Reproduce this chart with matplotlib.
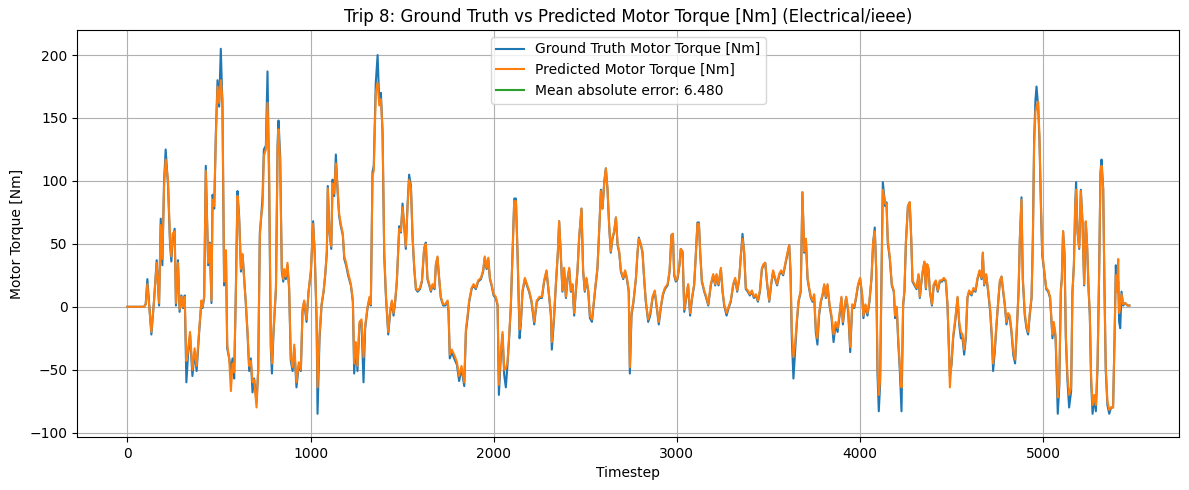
import numpy as np
import matplotlib
matplotlib.use("Agg")
import matplotlib.pyplot as plt

# Values (timestep, ground truth, predicted)
timestep = [
    0, 50, 90, 100, 109, 131, 145, 160, 173, 182,
    191, 200, 209, 222, 233, 240, 247, 258, 265, 276,
    285, 295, 304, 313, 322, 331, 342, 355, 367, 378,
    391, 404, 410, 419, 428, 441, 450, 459, 465, 474,
    483, 492, 501, 510, 519, 528, 538, 545, 556, 565,
    574, 583, 592, 601, 610, 620, 629, 638, 647, 656,
    665, 674, 683, 692, 705, 714, 723, 730, 738, 745,
    756, 765, 774, 783, 789, 798, 811, 820, 825, 834,
    843, 851, 856, 865, 874, 883, 892, 902, 911, 923,
    936, 947, 956, 965, 978, 989, 1002, 1014, 1023, 1033,
    1038, 1049, 1060, 1071, 1080, 1089, 1094, 1103, 1113, 1120,
    1129, 1138, 1147, 1156, 1165, 1176, 1184, 1194, 1205, 1220,
    1231, 1238, 1247, 1256, 1267, 1278, 1289, 1298, 1311, 1322,
    1329, 1338, 1345, 1356, 1366, 1375, 1384, 1393, 1402, 1411,
    1424, 1435, 1444, 1453, 1462, 1471, 1484, 1493, 1502, 1511,
    1520, 1529, 1538, 1548, 1557, 1566, 1575, 1584, 1597, 1608,
    1620, 1629, 1638, 1648, 1657, 1666, 1677, 1684, 1693, 1702,
    1711, 1724, 1735, 1748, 1753, 1760, 1771, 1784, 1799, 1811,
    1824, 1839, 1848, 1857, 1866, 1879, 1890, 1902, 1915, 1930,
    1942, 1951, 1961, 1970, 1979, 1988, 1999, 2011, 2021, 2028,
    2039, 2048, 2057, 2066, 2075, 2084, 2093, 2104, 2112, 2121,
    2130, 2141, 2148, 2157, 2170, 2181, 2193, 2206, 2221, 2235,
    2250, 2263, 2275, 2288, 2303, 2312, 2317, 2328, 2339, 2350,
    2357, 2366, 2375, 2384, 2394, 2403, 2412, 2421, 2430, 2439,
    2448, 2457, 2466, 2479, 2488, 2497, 2506, 2516, 2525, 2536,
    2545, 2554, 2566, 2576, 2585, 2594, 2603, 2612, 2621, 2630,
    2639, 2648, 2657, 2667, 2676, 2685, 2694, 2707, 2717, 2727,
    2737, 2743, 2752, 2763, 2776, 2785, 2792, 2803, 2812, 2821,
    2830, 2843, 2854, 2867, 2879, 2890, 2901, 2912, 2923, 2934,
    2949, 2960, 2970, 2978, 2985, 2994, 3003, 3014, 3021, 3031,
    3040, 3051, 3061, 3072, 3083, 3094, 3103, 3112, 3120, 3127,
    3136, 3149, 3160, 3171, 3185, 3198, 3209, 3216, 3227, 3240,
    3249, 3258, 3271, 3282, 3294, 3307, 3318, 3329, 3340, 3349,
    3358, 3367, 3376, 3387, 3398, 3409, 3420, 3431, 3442, 3453,
    3464, 3473, 3482, 3493, 3504, 3514, 3525, 3536, 3547, 3558,
    3569, 3580, 3591, 3602, 3613, 3620, 3627, 3636, 3645, 3655,
    3664, 3676, 3685, 3695, 3704, 3713, 3722, 3731, 3740, 3749,
    3758, 3767, 3776, 3786, 3795, 3804, 3813, 3822, 3833, 3844,
    3855, 3866, 3877, 3888, 3898, 3906, 3917, 3924, 3935, 3946,
    3957, 3968, 3978, 3989, 4000, 4011, 4018, 4029, 4040, 4051,
    4062, 4071, 4080, 4088, 4095, 4102, 4109, 4117, 4124, 4137,
    4144, 4151, 4162, 4173, 4184, 4191, 4200, 4208, 4217, 4226,
    4235, 4242, 4250, 4261, 4271, 4279, 4286, 4297, 4308, 4319,
    4326, 4335, 4344, 4351, 4359, 4366, 4373, 4381, 4392, 4402,
    4413, 4424, 4435, 4446, 4457, 4468, 4477, 4483, 4490, 4499,
    4508, 4519, 4532, 4541, 4550, 4559, 4568, 4577, 4586, 4595,
    4608, 4619, 4630, 4641, 4652, 4663, 4670, 4677, 4688, 4699,
    4710, 4719, 4726, 4735, 4745, 4754, 4763, 4772, 4781, 4790,
    4799, 4808, 4817, 4826, 4836, 4846, 4856, 4865, 4872, 4881,
    4888, 4899, 4908, 4917, 4926, 4936, 4943, 4950, 4957, 4963,
    4972, 4979, 4987, 4994, 5005, 5016, 5027, 5037, 5045, 5050,
    5057, 5067, 5072, 5079, 5087, 5096, 5101, 5108, 5116, 5123,
    5132, 5141, 5152, 5159, 5167, 5174, 5179, 5187, 5196, 5205,
    5214, 5223, 5232, 5239, 5247, 5254, 5261, 5269, 5278, 5287,
    5296, 5305, 5312, 5318, 5327, 5334, 5341, 5350, 5360, 5370,
    5381, 5389, 5396, 5403, 5409, 5414, 5420, 5427, 5436, 5447,
    5460, 5470,
]

ground_truth = [
    0, 0, 0, 2, 22, -22, 4, 37, 1, 70,
    33, 99, 125, 96, 49, 36, 54, 62, 1, 37,
    -4, 9, -1, 9, -60, -38, -22, -55, -36, -51,
    -22, 4, -1, 7, 112, 33, 51, 3, 89, 78,
    138, 180, 159, 205, 159, 17, 43, -33, -41, -51,
    -41, -57, 12, 92, 72, 28, 41, 22, 1, -22,
    -51, -41, -68, -57, -76, -51, 59, 70, 88, 125,
    128, 187, 93, -33, -53, -20, 14, 130, 148, 120,
    28, 20, 28, 22, 33, 14, -43, -51, -33, -64,
    -46, -51, -4, 4, -12, 12, 28, 68, 41, -12,
    -85, -25, 1, 12, 25, 43, 96, 59, 46, 101,
    88, 121, 93, 72, 64, 57, 38, 33, 25, 17,
    4, -53, -30, -51, -14, -12, -60, -17, -1, 7,
    1, 107, 112, 178, 200, 162, 170, 138, 41, 9,
    -22, -4, 4, -7, 4, 20, 64, 59, 82, 64,
    46, 80, 105, 96, 54, 30, 14, 12, 14, 20,
    46, 51, 22, 17, 12, 17, 14, 33, 39, 22,
    7, 1, 1, 4, -4, -41, -36, -41, -46, -59,
    -49, -63, -20, -9, 4, 14, 17, 14, 20, 22,
    28, 39, 30, 38, 22, 17, 9, 7, 1, -70,
    -38, -22, -54, -64, -46, -25, -1, 49, 86, 86,
    41, -25, -14, 12, 22, 17, 12, 4, -14, 4,
    7, 7, 20, 28, 7, -7, -34, -12, 17, 43,
    68, 41, 12, 30, 7, 22, 30, 12, 17, -7,
    12, 28, 54, 78, 28, 12, 22, 12, -9, -12,
    1, 14, 30, 62, 93, 78, 99, 110, 93, 64,
    43, 54, 59, 71, 49, 43, 28, 22, 28, 22,
    12, -53, -7, 4, 22, 43, 55, 49, 43, 22,
    4, -12, -7, 7, 12, -1, -14, -1, 9, 14,
    17, 28, 57, 58, 25, 20, 22, 33, 46, 43,
    -4, 7, 17, -7, 7, 17, 41, 67, 67, 43,
    20, 12, 7, 1, 17, 25, 17, 25, 17, 30,
    12, 1, -7, -1, 4, 17, 22, 12, 22, 41,
    58, 43, 14, 12, 9, 12, 7, 9, 4, 12,
    30, 33, 35, 17, 4, 17, 28, 22, 17, 25,
    28, 25, 33, 41, 49, 28, -25, -57, -36, -12,
    4, 12, 91, 43, 54, 22, 14, 7, 4, 9,
    -20, -30, -7, 4, 9, 17, 7, 17, 1, -9,
    -28, -14, -20, -7, 7, -14, 1, 7, -4, -36,
    1, -1, 7, 17, 22, 9, -9, 1, -7, 4,
    22, 51, 63, 28, -54, -83, -62, 28, 99, 80,
    83, 51, 38, 17, 12, -9, -1, -28, -51, -83,
    1, 12, 51, 80, 83, 54, 20, 17, 14, 25,
    7, 20, 30, 35, 14, 33, 30, 12, 1, 17,
    20, 12, 20, 20, 22, 20, 1, -25, -55, -46,
    -25, -12, 7, -14, -25, -25, -38, -25, 7, 12,
    9, 14, 12, 22, 28, 22, 43, 17, 25, 12,
    -4, -25, -51, -36, -14, 4, 20, 24, 12, 1,
    -14, -7, -9, -20, -38, -45, -17, 12, 54, 87,
    22, -7, -17, -22, -7, 7, 54, 133, 164, 175,
    159, 133, 80, 41, 28, 14, 12, 7, -12, -25,
    -14, -25, -49, -85, -64, 14, 22, 60, 41, -25,
    -59, -80, -67, 12, 33, 80, 99, 59, 46, 93,
    67, 17, 67, 49, 14, -7, -59, -85, -72, -83,
    -49, 28, 107, 117, 93, 14, -51, -78, -85, -80,
    -80, -25, 33, 12, 20, -12, -17, 12, 1, 3,
    1, 1,
]

predicted = [
    0, 0, 0, 2, 18, -20, 4, 35, 3, 65,
    38, 95, 117, 100, 52, 40, 58, 60, 3, 35,
    -2, 8, 0, 8, -43, -35, -20, -50, -33, -47,
    -20, 5, 0, 8, 108, 35, 50, 5, 85, 80,
    135, 175, 162, 180, 165, 20, 45, -30, -42, -67,
    -45, -52, 10, 88, 70, 30, 42, 20, 3, -20,
    -47, -43, -60, -58, -80, -50, 55, 72, 80, 120,
    125, 162, 110, -30, -45, -18, 15, 125, 141, 115,
    30, 22, 30, 24, 35, 16, -40, -48, -30, -60,
    -44, -50, -2, 5, -10, 12, 30, 66, 42, -10,
    -64, -22, 2, 12, 26, 45, 94, 60, 48, 98,
    90, 114, 96, 74, 66, 58, 40, 35, 27, 18,
    5, -45, -28, -47, -12, -10, -40, -15, 0, 8,
    2, 104, 108, 170, 178, 160, 165, 140, 45, 11,
    -20, -2, 5, -5, 5, 21, 62, 60, 79, 65,
    48, 78, 101, 94, 56, 32, 15, 13, 15, 21,
    47, 50, 23, 18, 13, 18, 15, 34, 40, 23,
    8, 2, 2, 5, -2, -38, -34, -38, -44, -55,
    -47, -60, -18, -7, 5, 15, 18, 15, 21, 23,
    29, 40, 31, 39, 23, 18, 10, 8, 2, -62,
    -35, -20, -50, -49, -44, -23, 0, 48, 84, 84,
    43, -18, -12, 13, 23, 18, 13, 5, -12, 5,
    8, 8, 21, 29, 8, -5, -28, -10, 18, 44,
    68, 42, 13, 31, 8, 23, 31, 13, 18, -5,
    13, 29, 55, 78, 29, 13, 23, 13, -7, -10,
    2, 15, 31, 62, 92, 78, 98, 110, 94, 65,
    44, 55, 60, 71, 50, 44, 29, 23, 29, 23,
    13, -48, -5, 5, 23, 44, 54, 50, 44, 23,
    5, -10, -5, 8, 13, 0, -12, 0, 10, 15,
    18, 29, 57, 58, 26, 21, 23, 34, 46, 44,
    -2, 8, 18, -5, 8, 18, 41, 66, 66, 44,
    21, 13, 8, 2, 18, 26, 18, 26, 18, 31,
    13, 2, -5, 0, 5, 18, 23, 13, 23, 41,
    54, 44, 15, 13, 10, 13, 8, 10, 5, 13,
    31, 34, 35, 18, 5, 18, 29, 23, 18, 26,
    29, 26, 34, 42, 49, 29, -18, -40, -30, -10,
    5, 13, 91, 44, 54, 23, 15, 8, 5, 10,
    -17, -25, -5, 5, 10, 18, 8, 18, 2, -7,
    -22, -12, -17, -5, 8, -12, 2, 8, -2, -32,
    2, 0, 8, 18, 23, 10, -7, 2, -5, 5,
    23, 51, 60, 29, -48, -70, -58, 25, 93, 82,
    82, 53, 40, 18, 13, -7, 0, -25, -47, -64,
    3, 13, 52, 80, 83, 55, 21, 18, 15, 26,
    8, 21, 31, 36, 15, 34, 31, 13, 2, 18,
    21, 13, 21, 21, 23, 21, 2, -25, -64, -44,
    -23, -10, 8, -12, -20, -22, -34, -23, 8, 13,
    10, 15, 13, 23, 29, 23, 43, 18, 26, 13,
    -2, -22, -45, -33, -12, 5, 21, 24, 13, 2,
    -12, -5, -7, -18, -35, -42, -15, 13, 54, 85,
    24, -5, -15, -20, -5, 8, 52, 128, 155, 159,
    163, 136, 84, 44, 29, 15, 13, 8, -10, -22,
    -12, -22, -45, -72, -62, 12, 22, 60, 42, -22,
    -55, -70, -64, 10, 33, 78, 93, 60, 47, 92,
    68, 18, 68, 50, 15, -5, -55, -78, -70, -78,
    -45, 28, 103, 112, 94, 16, -48, -75, -82, -80,
    -80, -22, 25, 12, 38, -5, 0, 10, 2, 3,
    1, 1,
]

mae = 6.480

fig, ax = plt.subplots(figsize=(11.89, 4.9), dpi=100)
ax.plot(timestep, ground_truth, color="tab:blue", label="Ground Truth Motor Torque [Nm]")
ax.plot(timestep, predicted, color="tab:orange", label="Predicted Motor Torque [Nm]")
ax.plot([], [], color="tab:green", label=f"Mean absolute error: {mae:.3f}")

ax.set_ylim(-103.5, 220)
ax.set_xlabel("Timestep")
ax.set_ylabel("Motor Torque [Nm]")
ax.set_title("Trip 8: Ground Truth vs Predicted Motor Torque [Nm] (Electrical/ieee)")
ax.legend(loc="upper center")
ax.grid(True)

fig.subplots_adjust(left=0.065, right=0.992, top=0.939, bottom=0.108)
fig.savefig("out.png")
